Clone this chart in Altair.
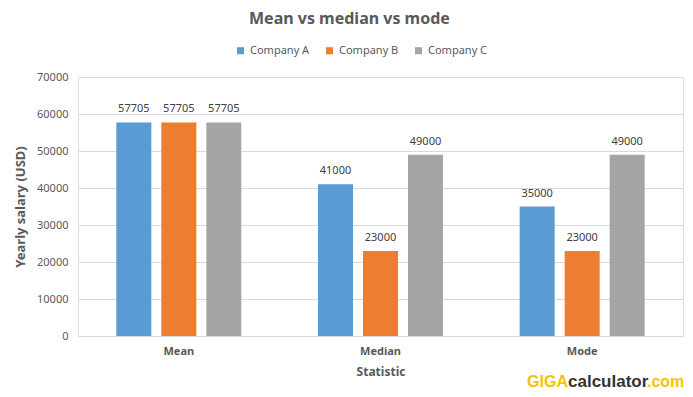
import altair as alt
import pandas as pd

statistics = ["Mean", "Median", "Mode"]
companies = ["Company A", "Company B", "Company C"]
company_a = [57705, 41000, 35000]
company_b = [57705, 23000, 23000]
company_c = [57705, 49000, 49000]
colors = ["#5b9bd5", "#ed7d31", "#a5a5a5"]
y_ticks = [0, 10000, 20000, 30000, 40000, 50000, 60000, 70000]

rows = []
for comp, vals in zip(companies, [company_a, company_b, company_c]):
    for s, v in zip(statistics, vals):
        rows.append({"Statistic": s, "Company": comp, "Value": v})
df = pd.DataFrame(rows)

FONT = "Noto Sans"
GRAY = "#595959"

base = alt.Chart(df).encode(
    x=alt.X("Statistic:N", sort=statistics,
            scale=alt.Scale(paddingInner=0.38, paddingOuter=0.19),
            axis=alt.Axis(title="Statistic", labelAngle=0, labelFontWeight="bold",
                          labelColor=GRAY, labelFontSize=11, titleFontSize=12,
                          titleColor=GRAY, titleFontWeight="bold", domainColor="#d9d9d9",
                          ticks=False, labelPadding=9, titlePadding=10)),
    xOffset=alt.XOffset("Company:N", sort=companies,
                        scale=alt.Scale(paddingInner=0.222, paddingOuter=0)),
    y=alt.Y("Value:Q", scale=alt.Scale(domain=[0, 70000]),
            axis=alt.Axis(title="Yearly salary (USD)", values=y_ticks, format="d",
                          labelColor=GRAY, labelFontSize=11, titleFontSize=13,
                          titleColor=GRAY, titleFontWeight="bold", domain=False,
                          ticks=False, gridColor="#d9d9d9", labelPadding=10,
                          titlePadding=9)),
)

bars = base.mark_bar().encode(
    color=alt.Color("Company:N", sort=companies,
                    scale=alt.Scale(domain=companies, range=colors),
                    legend=alt.Legend(title=None, orient="none", direction="horizontal",
                                      legendX=157, legendY=-32, symbolType="square",
                                      symbolSize=50, labelFontSize=11, labelColor=GRAY,
                                      columnPadding=14, symbolStrokeWidth=0))
)

labels = base.mark_text(dy=-13, fontSize=11, color="#404040", font=FONT).encode(
    text=alt.Text("Value:Q", format="d")
)

wm = pd.DataFrame({"t": ["x"]})
giga = alt.Chart(wm).mark_text(text="GIGA", align="right", baseline="alphabetic",
                               fontSize=16, fontWeight="bold", color="#f5c400",
                               font="Liberation Sans").encode(
    x=alt.value(490), y=alt.value(310))
calc = alt.Chart(wm).mark_text(text="calculator", align="left", baseline="alphabetic",
                               fontSize=17, fontWeight="bold", color="#333333",
                               font="Liberation Sans").encode(
    x=alt.value(490), y=alt.value(310))
com = alt.Chart(wm).mark_text(text=".com", align="left", baseline="alphabetic",
                              fontSize=16, fontWeight="bold", color="#f5c400",
                              font="Liberation Sans").encode(
    x=alt.value(569), y=alt.value(310))

chart = alt.layer(bars, labels, giga, calc, com).properties(
    width=605, height=259,
    padding={"left": 6, "right": 0, "top": 3, "bottom": 5},
    title=alt.TitleParams("Mean vs median vs mode", fontSize=16, fontWeight="bold",
                          color=GRAY, font=FONT, offset=18, anchor="middle",
                          frame="bounds"),
).configure_view(stroke=None).configure(font=FONT).configure_axis(
    labelFont=FONT, titleFont=FONT).configure_legend(labelFont=FONT)

chart.save("out.html", embed_options={"renderer": "svg", "actions": False})
